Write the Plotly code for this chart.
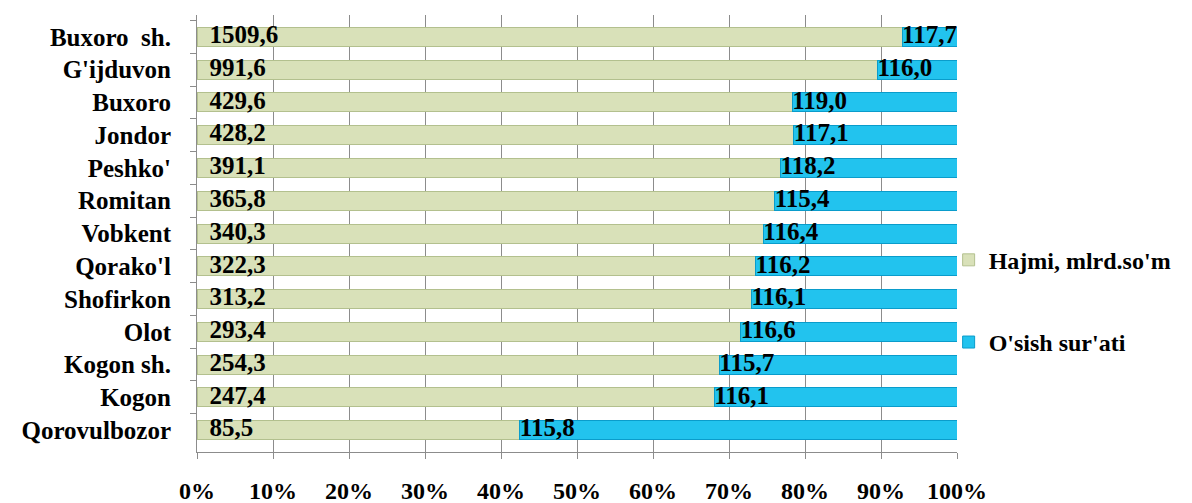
import plotly.graph_objects as go

categories = ["Buxoro  sh.", "G'ijduvon", "Buxoro", "Jondor", "Peshko'", "Romitan", "Vobkent",
              "Qorako'l", "Shofirkon", "Olot", "Kogon sh.", "Kogon", "Qorovulbozor"]
hajmi = [1509.6, 991.6, 429.6, 428.2, 391.1, 365.8, 340.3, 322.3, 313.2, 293.4, 254.3, 247.4, 85.5]
osish = [117.7, 116.0, 119.0, 117.1, 118.2, 115.4, 116.4, 116.2, 116.1, 116.6, 115.7, 116.1, 115.8]
x_ticks = [0, 10, 20, 30, 40, 50, 60, 70, 80, 90, 100]
x_tick_labels = [f"{t}%" for t in x_ticks]

def fmt(v):
    return f"{v:.1f}".replace(".", ",")

# share of each series in the 100% stacked bar
hajmi_pct = [100 * h / (h + o) for h, o in zip(hajmi, osish)]

FONT = "Liberation Serif, Times New Roman, DejaVu Serif, serif"
lab_font = dict(family=FONT, size=25, color="black", weight="bold")

fig = go.Figure()
fig.add_trace(go.Bar(
    y=categories, x=hajmi, orientation="h", name="Hajmi, mlrd.so'm",
    marker=dict(color="#D9E1B9", line=dict(color="#B3C08E", width=1)),
    legendgroup="a", hoverinfo="skip",
))
fig.add_trace(go.Bar(
    y=categories, x=osish, orientation="h", name="O'sish sur'ati",
    marker=dict(color="#22C3EE", line=dict(color="#0A9CCB", width=1)),
    legendgroup="b", hoverinfo="skip",
))
fig.add_trace(go.Scatter(
    y=categories, x=[0] * len(categories), mode="text",
    text=["\u00a0\u00a0" + fmt(v) for v in hajmi], textposition="middle right",
    textfont=lab_font, showlegend=False, cliponaxis=False, hoverinfo="skip",
))
fig.add_trace(go.Scatter(
    y=categories, x=hajmi_pct, mode="text",
    text=[fmt(v) for v in osish], textposition="middle right",
    textfont=lab_font, showlegend=False, cliponaxis=False, hoverinfo="skip",
))

fig.update_layout(
    width=1184, height=495,
    barmode="stack", barnorm="percent", bargap=0.42,
    paper_bgcolor="white", plot_bgcolor="white",
    margin=dict(l=189, r=235, t=7, b=51, autoexpand=False),
    font=dict(family=FONT, size=24, color="black"),
    showlegend=True,
    legend=dict(x=0.989, y=0.345, xanchor="left", yanchor="middle",
                bgcolor="rgba(0,0,0,0)",
                font=dict(family=FONT, size=24, color="black", weight="bold"),
                tracegroupgap=48, traceorder="grouped", itemwidth=30),
)
fig.update_xaxes(
    range=[0, 100], tickvals=x_ticks, ticktext=x_tick_labels,
    showgrid=True, gridcolor="#8C8C8C", gridwidth=1,
    showline=True, linecolor="#8C8C8C", linewidth=1,
    ticks="outside", ticklen=6, tickcolor="#8C8C8C",
    tickfont=dict(family=FONT, size=24, color="black", weight="bold"),
    ticklabelstandoff=11, zeroline=False, fixedrange=True,
)
fig.update_yaxes(
    autorange="reversed", showline=True, linecolor="#8C8C8C", linewidth=1,
    ticks="outside", ticklen=6, tickcolor="#8C8C8C", tickson="boundaries",
    tickfont=dict(family=FONT, size=25, color="black", weight="bold"),
    ticklabelstandoff=20, showgrid=False,
)

fig.write_html("out.html")
